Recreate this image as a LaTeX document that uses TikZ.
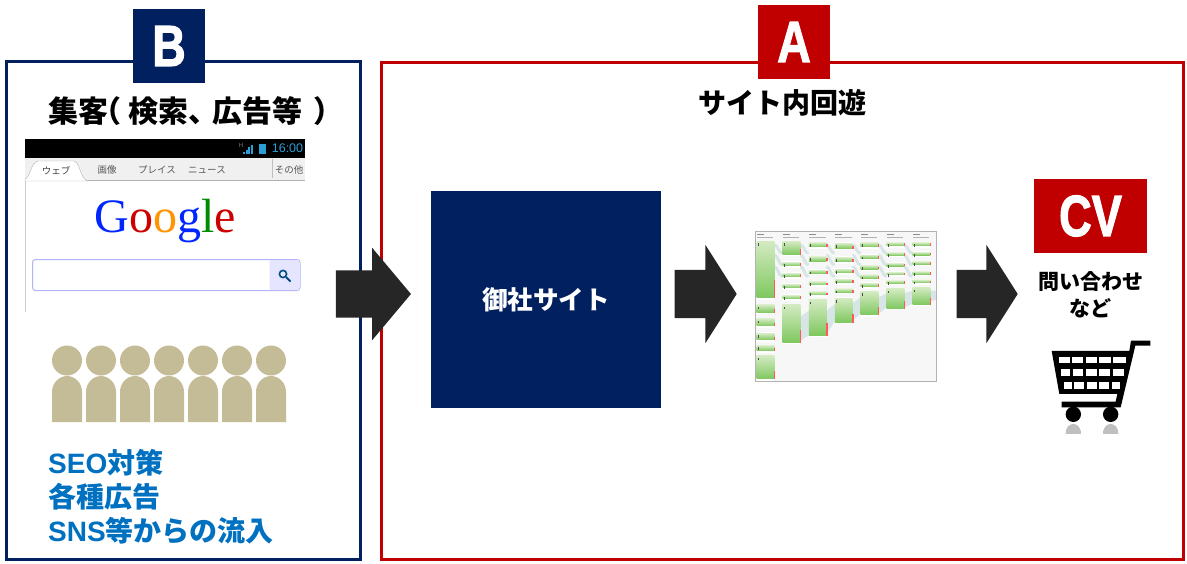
\documentclass[tikz,border=0pt]{standalone}
\usepackage{graphicx}
\usepackage{fontspec}
\setmainfont{Liberation Sans}
\newfontfamily\cjk{Noto Sans CJK JP}
\newfontfamily\cjkheavy[UprightFont=* Black]{Noto Sans CJK JP}
\newfontfamily\badgefont[BoldFeatures={FakeBold=2}]{Liberation Sans}
\newfontfamily\logofont{Liberation Serif}
\usetikzlibrary{positioning,shapes.arrows}
\definecolor{navy}{HTML}{002060}
\definecolor{crimson}{HTML}{C00000}
\definecolor{ink}{HTML}{262626}
\definecolor{person}{HTML}{C4BC96}
\definecolor{inflow}{HTML}{0070C0}
\definecolor{flowband}{HTML}{D8E5E6}
\definecolor{stat}{HTML}{2A9FD6}
\definecolor{palegreen}{HTML}{D2EAC0}
\definecolor{leafgreen}{HTML}{7FC85F}
\begin{document}
\begin{tikzpicture}[x=1pt,y=-1pt,
  frame/.style={draw,line width=3pt,inner sep=0pt,rectangle},
  badge/.style={rectangle,text=white,inner sep=0pt,minimum height=74pt,font=\fontsize{58}{58}\selectfont\badgefont\bfseries},
  heading/.style={inner sep=0pt,font=\fontsize{28}{34}\selectfont\cjkheavy},
  bigarrow/.style={single arrow,fill=ink,inner sep=0pt,outer sep=0pt,text height=48pt,text depth=0pt,single arrow head indent=0pt,single arrow head extend=25pt,minimum width=98pt,single arrow tip angle=115},
  tabtext/.style={inner sep=0pt,text=black!65,font=\fontsize{9.5}{10}\selectfont\cjk}]
\useasboundingbox (0,0) rectangle (1187,563);
\fill[white] (0,0) rectangle (1187,563);

% frames and badges
\node[frame,draw=navy,minimum width=354pt,minimum height=498pt] (left) at (183.5,310.5) {};
\node[frame,draw=crimson,minimum width=802pt,minimum height=497.5pt] (right) at (782.5,310.75) {};
\node[badge,fill=navy,minimum width=72pt] (B) at (169,46) {\raisebox{-3pt}{\scalebox{.8}[1]{B}}};
\node[badge,fill=crimson,minimum width=72pt] (A) at (794,42) {\raisebox{-3pt}{\scalebox{.8}[1]{A}}};
\node[badge,fill=crimson,minimum width=113pt] (CV) at (1090.5,216) {\raisebox{-3pt}{\scalebox{.78}[1]{CV}}};
\node[heading,anchor=west,font=\fontsize{30}{34}\selectfont\cjkheavy] (search) at (48,111) {集客\kern-17pt（\kern7pt検索、\kern-6pt広告等\kern11pt）};
\node[heading] (tour) at (782,103) {サイト内回遊};
\node[rectangle,fill=navy,text=white,minimum width=230pt,minimum height=217pt,inner sep=0pt,font=\fontsize{25.6}{30}\selectfont\bfseries\cjk] (site) at (546,299.5) {御社サイト};
\node[inner sep=0pt,align=center,below=18.5pt of CV,font=\fontsize{21}{27}\selectfont\bfseries\cjk] (cvnote) {問い合わせ\\など};

% big arrows
\node[bigarrow,text height=47pt,minimum height=75pt,minimum width=92pt,single arrow head extend=22.5pt,single arrow tip angle=100] (toSite) at (363.5,294) {};
\node[bigarrow,minimum height=62pt] (toFunnel) at (698,294) {};
\node[bigarrow,minimum height=61pt] (toCV) at (979.5,294) {};

% phone screenshot
\fill[black] (25,139) rectangle (305,158);
\fill[black!6] (25,158) rectangle (305,181);
\draw[black!30,line width=1.2pt] (25,180.5) -- (305,180.5);
\fill[white,draw=black!30] (25,179) .. controls (30,178) and (31,162) .. (38,161) -- (74,161) .. controls (80,162) and (80,179) .. (88,181) -- (25,181) -- cycle;
\draw[black!20] (25,181) -- (25,312);
\draw[black!25] (272,159) -- (272,178);
\node[tabtext,text=black!75] (web) at (56,171) {ウェブ};
\node[tabtext] (image) at (107,170) {画像};
\node[tabtext] (place) at (157,170) {プレイス};
\node[tabtext] (news) at (207,170) {ニュース};
\node[tabtext] (more) at (289,170) {その他};
\node[inner sep=0pt,text=stat,font=\fontsize{12.5}{14}\selectfont] (clock) at (287.5,148.5) {16:00};
\node[inner sep=0pt,text=black!50,font=\fontsize{6}{6}\selectfont] (hspa) at (241,145.5) {H};
\foreach \i in {0,...,3} {
  \fill[stat] ({243+2.5*\i},154) rectangle ({245+2.5*\i},{152-2.5*\i});
}
\fill[stat] (258.5,144) rectangle (266,154);
\node[inner sep=0pt,font=\fontsize{48}{48}\selectfont\logofont] (google) at (165,221) {\textcolor{blue!85!cyan}{G}\textcolor{red!80!black}{o}\textcolor{orange!85!yellow}{o}\textcolor{blue!85!cyan}{g}\textcolor{green!55!black}{l}\textcolor{red!80!black}{e}};
\draw[fill=white,draw=blue!30,line width=1pt,rounded corners=3pt] (32.5,259.5) rectangle (300,290.5);
\fill[blue!10,rounded corners=2pt] (269.5,260) rectangle (299.5,290);
\draw[navy!80!cyan,line width=1.6pt] (283,274) circle[radius=3.6pt];
\draw[navy!80!cyan,line width=2pt] (286,277) -- (290.5,281.5);

% people
\foreach \i in {0,...,6} {
  \fill[person] ({67+34*\i},360.5) circle[radius=15pt];
  \fill[person] ({52+34*\i},422) -- ({52+34*\i},392) .. controls ({52+34*\i},383) and ({59+34*\i},376) .. ({67+34*\i},376) .. controls ({75+34*\i},376) and ({82+34*\i},383) .. ({82+34*\i},392) -- ({82+34*\i},422) -- cycle;
}
\node[anchor=north west,inner sep=0pt,align=left,text=inflow,font=\fontsize{28}{34}\selectfont\bfseries] (channels) at (48,449) {SEO{\cjk 対策}\\{\cjk 各種広告}\\SNS{\cjk 等からの流入}};

% funnel report, in crop units
\node[rectangle,fill=black!3,minimum width=181pt,minimum height=150pt,inner sep=0pt] (funnel) at (846,306.5) {};
\begin{scope}[shift={(740,220)},x=.3333pt,y=-.3333pt]
\fill[flowband] (181,290) -- (207,272) -- (260,272) -- (285,252) -- (337,250) -- (362,232) -- (415,232) -- (440,220) -- (492,220) -- (518,212) -- (588,212) -- (588,240) -- (518,252) -- (492,262) -- (440,262) -- (415,282) -- (362,282) -- (337,302) -- (285,302) -- (260,342) -- (207,346) -- (181,362) -- cycle;
\foreach \x in {103,181,259,337,415,492} {
  \draw[flowband,line width=3pt] (\x,75) .. controls ({\x+12},75) and ({\x+12},100) .. ({\x+25},100);
  \draw[flowband,line width=3pt] (\x,105) .. controls ({\x+12},105) and ({\x+12},135) .. ({\x+25},135);
  \draw[flowband,line width=3pt] (\x,140) .. controls ({\x+12},140) and ({\x+12},170) .. ({\x+25},170);
}
\foreach \cx/\rows in {50/{65/233,255/277,297/318,340/360,377/392,408/477},
                       128/{65/103,127/137,160/170,193/203,226/236,255/367},
                       207/{68/80,110/123,150/160,185/195,215/225,240/346},
                       285/{70/85,112/125,148/158,178/188,207/217,235/307},
                       362/{68/80,105/115,137/147,165/175,190/200,215/285},
                       440/{68/77,98/106,130/138,157/165,182/190,207/265},
                       518/{68/77,97/105,125/133,155/163,180/188,204/253}} {
  \fill[black!45] (\cx,42) rectangle ({\cx+22},46);
  \fill[black!30] (\cx,52) rectangle ({\cx+50},55);
  \foreach \t/\b in \rows {
    \fill[white] (\cx,{\t-3}) rectangle ({\cx+53},{\b+6});
    \shade[top color=palegreen,bottom color=leafgreen] (\cx,\t) rectangle ({\cx+53},\b);
    \fill[black!70] ({\cx+3},{\t+5}) rectangle ({\cx+7},{\t+13});
    \fill[red!65] ({\cx+52},{\b-(\b-\t)*.3-4}) rectangle ({\cx+56},{\b+1});
  }
}
\end{scope}
\draw[black!30,line width=1.5pt] (funnel.north west) rectangle (funnel.south east);

% cart, in crop units
\begin{scope}[shift={(1020,170)},x=.3333pt,y=-.3333pt]
\fill[black] (95,543) -- (328,543) -- (333,512) -- (391,512) -- (391,527) -- (346,527) -- (302,712) -- (125,712) -- (125,695) -- (287,695) -- (292,672) -- (118,672) -- cycle;
\foreach \y/\h/\xa/\xb/\xc/\xd/\xe/\xf in {560/578/117/150/157/190/197/230,598/618/122/150/160/190/199/230,637/656/132/155/163/192/200/230} {
  \fill[white] (\xa,\y) rectangle (\xb,\h);
  \fill[white] (\xc,\y) rectangle (\xd,\h);
  \fill[white] (\xe,\y) rectangle (\xf,\h);
}
\foreach \y/\h/\xa/\xb/\xc/\xd in {560/578/238/272/280/318,598/618/238/270/278/312,637/656/238/268/275/300} {
  \fill[white] (\xa,\y) rectangle (\xb,\h);
  \fill[white] (\xc,\y) rectangle (\xd,\h);
}
\foreach \x in {160,272} {
  \fill[black] (\x,733) circle[radius=7.7pt];
  \fill[black!25] ({\x-23},792) .. controls ({\x-23},770) and ({\x-10},762) .. (\x,762) .. controls ({\x+10},762) and ({\x+23},770) .. ({\x+23},792) -- cycle;
}
\end{scope}
\end{tikzpicture}
\end{document}
